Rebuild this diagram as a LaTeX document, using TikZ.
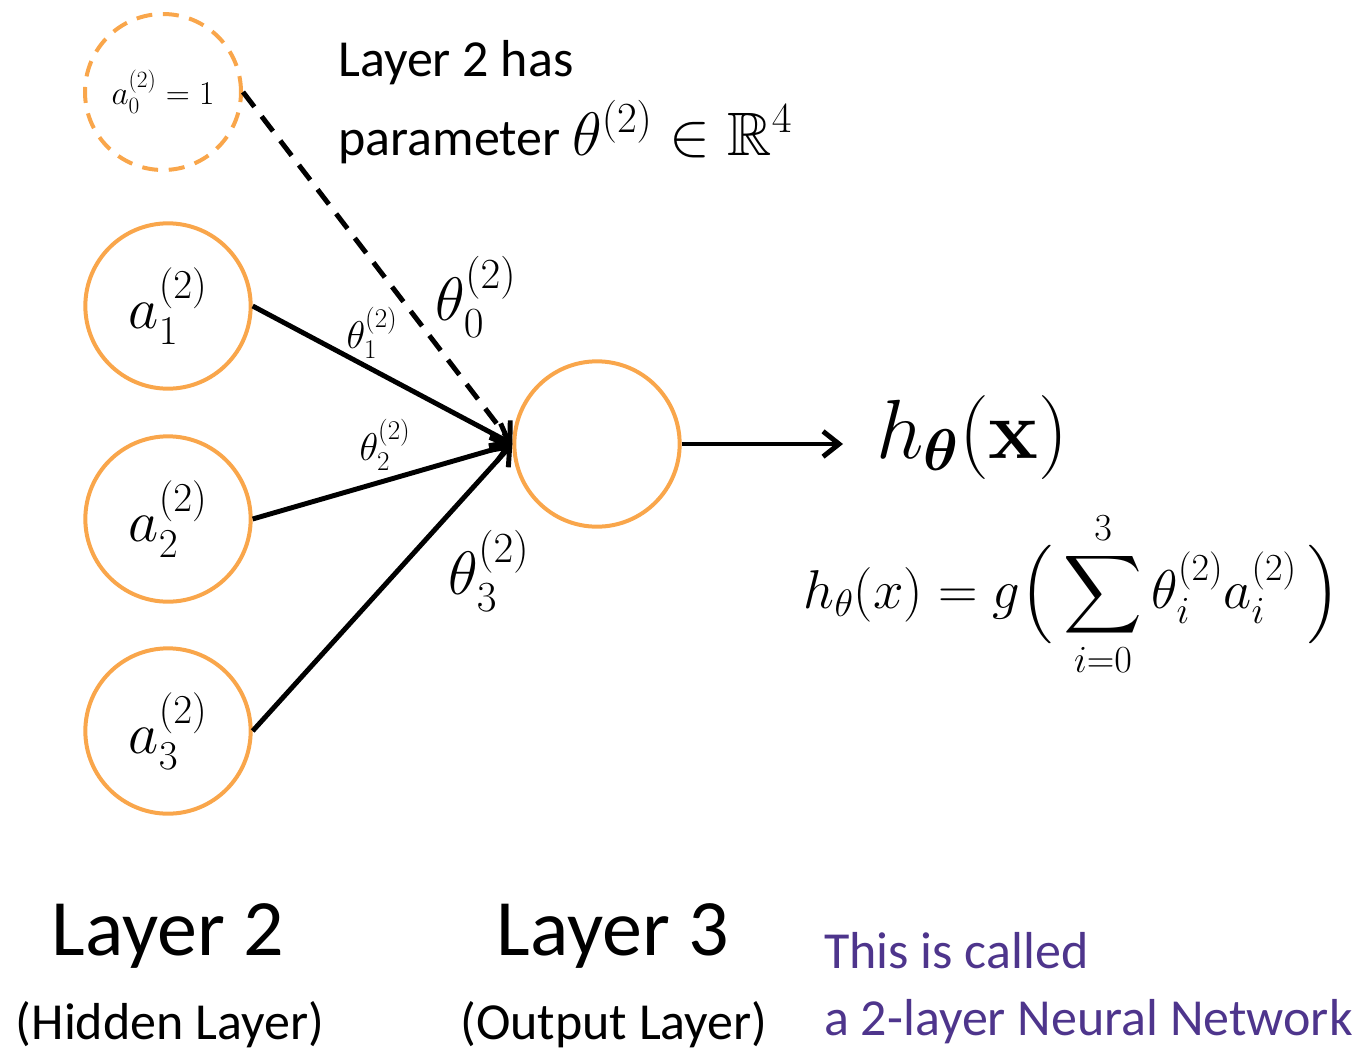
\RequirePackage{fix-cm}
\documentclass[tikz,border=0pt]{standalone}
\usepackage{amsmath,amssymb}
\DeclareFontFamily{U}{msb}{}
\DeclareFontShape{U}{msb}{m}{n}{<-6> msbm5 <6-8> msbm7 <8-> msbm10}{}
\usepackage[no-math]{fontspec}
\setmainfont{Carlito}
\usetikzlibrary{arrows.meta}
\definecolor{nodeorange}{HTML}{F9A64B}
\definecolor{notepurple}{HTML}{4E358C}
\newcommand\tallopen{\mathopen{\left(\vrule height 1.12em depth 0.5em width 0pt\right.}}
\newcommand\tallclose{\mathclose{\left.\vrule height 1.12em depth 0.5em width 0pt\right)}}
\tikzset{
  neuron/.style={circle, draw=nodeorange, line width=3pt, minimum size=124pt, inner sep=0pt, font=\fontsize{44}{50}\selectfont},
  biasneuron/.style={circle, draw=nodeorange, line width=3pt, dash pattern=on 12pt off 8pt, minimum size=117pt, inner sep=0pt, font=\fontsize{25}{30}\selectfont},
  conn/.style={line width=3.7pt, -{Straight Barb[length=12pt,width=19pt,line width=3.7pt]}},
  wlabel/.style={inner sep=0pt},
  bigtext/.style={inner sep=0pt, font=\fontsize{60}{68}\selectfont},
  subtext/.style={inner sep=0pt, font=\fontsize{39}{46}\selectfont},
  notetext/.style={inner sep=0pt, font=\fontsize{39}{46}\selectfont, text=notepurple},
  toptext/.style={inner sep=0pt, font=\fontsize{39}{46}\selectfont}
}
\begin{document}
\begin{tikzpicture}[x=0.75pt,y=-0.75pt]
\useasboundingbox (0,0) rectangle (1363,1050);
% neurons
\node[biasneuron] (a0) at (163,92) {$a_0^{(2)}=1$};
\node[neuron] (a1) at (168,306) {$a_1^{(2)}$};
\node[neuron] (a2) at (168,519) {$a_2^{(2)}$};
\node[neuron] (a3) at (168,731) {$a_3^{(2)}$};
\node[neuron] (out) at (597,444) {};
% connectors
\draw[conn, dash pattern=on 14pt off 9pt] (a0.east) -- (out.west);
\draw[conn] (a1.east) -- (out.west);
\draw[conn] (a2.east) -- (out.west);
\draw[conn] (a3.east) -- (out.west);
\coordinate (hend) at (843,444);
\draw[conn] (out.east) -- (hend);
% weight labels
\node[wlabel, font=\fontsize{29}{34}\selectfont] (t1) at (372,333) {$\theta_1^{(2)}$};
\node[wlabel, font=\fontsize{29}{34}\selectfont] (t2) at (385,445) {$\theta_2^{(2)}$};
\node[wlabel, font=\fontsize{46}{52}\selectfont] (t0) at (476,297) {$\theta_0^{(2)}$};
\node[wlabel, font=\fontsize{46}{52}\selectfont] (t3) at (489,571) {$\theta_3^{(2)}$};
% output
\node[wlabel, font=\fontsize{63}{70}\selectfont, anchor=west] (hx) at (876,437) {$h_{\boldsymbol{\theta}}(\mathbf{x})$};
\node[wlabel, font=\fontsize{41}{48}\selectfont] (formula) at (1072,594) {$\displaystyle h_\theta(x) = g\tallopen\,\sum_{i=0}^{3}\theta_i^{(2)}a_i^{(2)}\,\tallclose$};
% top text
\node[toptext, anchor=base west] (l2has) at (338,76) {Layer 2 has};
\node[toptext, anchor=base west] (param) at (338,155) {parameter {\fontsize{46}{52}\selectfont$\theta^{(2)}\in\mathbb{R}^4$}};
% bottom text
\node[bigtext, anchor=base] (lay2) at (168,955) {Layer 2};
\node[subtext, anchor=base] (hid) at (170,1039) {(Hidden Layer)};
\node[bigtext, anchor=base] (lay3) at (613,955) {Layer 3};
\node[subtext, anchor=base] (outl) at (614,1039) {(Output Layer)};
\node[notetext, anchor=base west] (n1) at (824,968) {This is called};
\node[notetext, anchor=base west] (n2) at (824,1035) {a 2-layer Neural Network};
\end{tikzpicture}
\end{document}
